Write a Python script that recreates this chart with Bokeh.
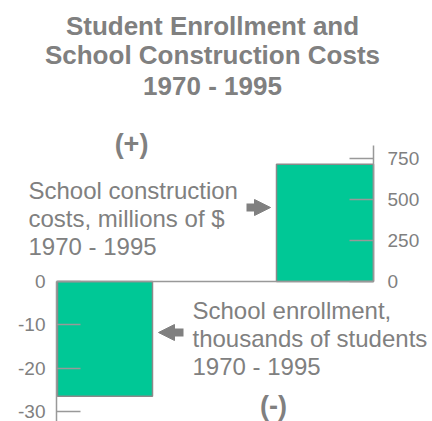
from bokeh.plotting import figure
from bokeh.models import Range1d, LinearAxis, FixedTicker, Label, Arrow, NormalHead
from bokeh.embed import file_html
from bokeh.resources import INLINE

# ---- data ----
categories = ["School enrollment, thousands of students", "School construction costs, millions of $"]
enrollment = [-26.5]
costs = [715]
enroll_ticks = [0, -10, -20, -30]
cost_ticks = [0, 250, 500, 750]
title_lines = ["Student Enrollment and", "School Construction Costs", "1970 - 1995"]
cost_note = ["School construction", "costs, millions of $", "1970 - 1995"]
enroll_note = ["School enrollment,", "thousands of students", "1970 - 1995"]

# ---- layout (pixel positions of the page) ----
W, H = 432, 421
BASE_Y = 281          # px of zero line
PX_ENR = 4.33         # px per thousand students
PX_COST = 0.164       # px per million $
LEFT_AX_X, RIGHT_AX_X = 56, 373
GREY = "#808080"
LINE_GREY = "#999999"
GREEN = "#00c896"
FONT = "Liberation Sans"

def dy(py):
    return (BASE_Y - py) / PX_ENR

p = figure(width=W, height=H, output_backend="svg", toolbar_location=None,
           x_axis_location=None, y_axis_location=None,
           min_border_left=0, min_border_right=0, min_border_top=0, min_border_bottom=0,
           x_range=Range1d(0, W),
           y_range=Range1d(-(H - BASE_Y) / PX_ENR, BASE_Y / PX_ENR))
p.extra_y_ranges = {"cost": Range1d(-(H - BASE_Y) / PX_COST, BASE_Y / PX_COST)}
p.grid.visible = False
p.outline_line_color = None
p.background_fill_color = "white"
p.border_fill_color = "white"

# bars
p.vbar(x=[104.5], top=enrollment, bottom=0, width=95,
       fill_color=GREEN, line_color="#8a8a8a", line_width=1.5)
p.vbar(x=[324.5], top=costs, bottom=0, width=97, y_range_name="cost",
       fill_color=GREEN, line_color="#8a8a8a", line_width=1.5)

# zero line as an axis without ticks
base = LinearAxis(fixed_location=0, bounds=(LEFT_AX_X, RIGHT_AX_X), ticker=FixedTicker(ticks=[]),
                  axis_line_color=LINE_GREY, axis_line_width=1.5,
                  major_tick_line_color=None, minor_tick_line_color=None,
                  major_label_text_font_size="0px")
p.add_layout(base, "below")

# value axes
left = LinearAxis(fixed_location=LEFT_AX_X, ticker=FixedTicker(ticks=enroll_ticks),
                  major_label_overrides={t: str(t) for t in enroll_ticks})
left.bounds = (-(H - BASE_Y) / PX_ENR, 0)
right = LinearAxis(fixed_location=RIGHT_AX_X, y_range_name="cost", ticker=FixedTicker(ticks=cost_ticks),
                   major_label_overrides={t: str(t) for t in cost_ticks})
right.bounds = (0, 829)
for ax, standoff in ((left, 11), (right, 14)):
    ax.major_tick_in = 24
    ax.major_tick_out = 0
    ax.minor_tick_in = 0
    ax.minor_tick_out = 0
    ax.axis_line_color = LINE_GREY
    ax.axis_line_width = 1.5
    ax.major_tick_line_color = LINE_GREY
    ax.major_tick_line_width = 1.5
    ax.major_label_standoff = standoff
    ax.major_label_text_font = FONT
    ax.major_label_text_font_size = "19px"
    ax.major_label_text_color = GREY
p.add_layout(left, "left")
p.add_layout(right, "right")

# title
for txt, py in zip(title_lines, (25, 54, 85)):
    p.add_layout(Label(x=212, y=dy(py), text=txt, text_font=FONT, text_font_size="26px",
                       text_font_style="bold", text_color=GREY, text_align="center",
                       text_baseline="middle"))

# (+) / (-)
p.add_layout(Label(x=131, y=dy(143), text="(+)", text_font=FONT, text_font_size="27px",
                   text_font_style="bold", text_color=GREY, text_align="center", text_baseline="middle"))
p.add_layout(Label(x=273, y=dy(405), text="(-)", text_font=FONT, text_font_size="27px",
                   text_font_style="bold", text_color=GREY, text_align="center", text_baseline="middle"))

# notes
for txt, py in zip(cost_note, (189.5, 217.5, 245.5)):
    p.add_layout(Label(x=28, y=dy(py), text=txt, text_font=FONT, text_font_size="24px",
                       text_color=GREY, text_align="left", text_baseline="middle"))
for txt, py in zip(enroll_note, (309.5, 337.5, 365.5)):
    p.add_layout(Label(x=192, y=dy(py), text=txt, text_font=FONT, text_font_size="24px",
                       text_color=GREY, text_align="left", text_baseline="middle"))

# arrows
p.add_layout(Arrow(end=NormalHead(size=16, fill_color=GREY, line_color=GREY, line_width=1),
                   x_start=246, y_start=dy(207), x_end=270, y_end=dy(207),
                   line_color=GREY, line_width=8))
p.add_layout(Arrow(end=NormalHead(size=16, fill_color=GREY, line_color=GREY, line_width=1),
                   x_start=183, y_start=dy(332), x_end=158, y_end=dy(332),
                   line_color=GREY, line_width=8))

open("out.html", "w").write(file_html(p, INLINE))
